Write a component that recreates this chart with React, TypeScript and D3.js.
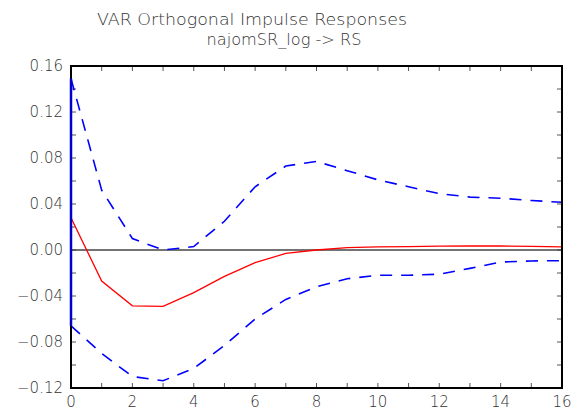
import React from "react";
import * as d3 from "d3";

const periods = [0, 1, 2, 3, 4, 5, 6, 7, 8, 9, 10, 11, 12, 13, 14, 15, 16];
const irf = [0.028, -0.027, -0.0485, -0.049, -0.037, -0.023, -0.011, -0.003, 0.0, 0.002, 0.0028, 0.003, 0.0034, 0.0035, 0.0035, 0.0032, 0.0028];
const upper = [0.149, 0.052, 0.01, 0.0, 0.003, 0.025, 0.055, 0.073, 0.077, 0.069, 0.061, 0.055, 0.049, 0.046, 0.045, 0.043, 0.0415];
const lower = [-0.066, -0.09, -0.11, -0.1137, -0.103, -0.083, -0.06, -0.043, -0.032, -0.025, -0.022, -0.022, -0.021, -0.016, -0.0105, -0.0095, -0.0093];
const yTickLabels = [0.16, 0.12, 0.08, 0.04, 0.0, -0.04, -0.08, -0.12];
const xTickLabels = [0, 2, 4, 6, 8, 10, 12, 14, 16];
const title = "VAR Orthogonal Impulse Responses";
const subtitle = "najomSR_log -> RS";

const W = 577, H = 417;
const L = 71, R = 562, T = 66, B = 388;

export default function App() {
  const x = d3.scaleLinear().domain([0, 16]).range([L, R]);
  const y = d3.scaleLinear().domain([-0.12, 0.16]).range([B, T]);
  const line = d3.line<number>().x((_, i) => x(periods[i])).y((d) => y(d));
  const minorY = d3.range(-0.12, 0.1601, 0.02);
  const minorX = d3.range(0, 17, 1);
  const font = "'DejaVu Sans', 'Liberation Sans', sans-serif";
  const fmt = (v: number) => (v < 0 ? "\u2212" : "") + Math.abs(v).toFixed(2);
  return (
    <svg width={W} height={H} style={{ position: "absolute", left: 0, top: 0, background: "#fff" }}>
      <text x={252} y={25} textAnchor="middle" fontFamily={font} fontSize={15} fontWeight={300} fill="#333" textLength={310} lengthAdjust="spacingAndGlyphs">{title}</text>
      <text x={284} y={45} textAnchor="middle" fontFamily={font} fontSize={15} fontWeight={300} fill="#333" textLength={155} lengthAdjust="spacingAndGlyphs">{subtitle}</text>
      {minorY.map((v, i) => (
        <g key={"yt" + i}>
          <line x1={L} x2={L + 5} y1={y(v)} y2={y(v)} stroke="#555" strokeWidth={1} />
          <line x1={R} x2={R - 5} y1={y(v)} y2={y(v)} stroke="#555" strokeWidth={1} />
        </g>
      ))}
      {minorX.map((v, i) => (
        <g key={"xt" + i}>
          <line x1={x(v)} x2={x(v)} y1={B} y2={B - 5} stroke="#555" strokeWidth={1} />
          <line x1={x(v)} x2={x(v)} y1={T} y2={T + 5} stroke="#555" strokeWidth={1} />
        </g>
      ))}
      <line x1={L} x2={R} y1={y(0)} y2={y(0)} stroke="#444" strokeWidth={1.5} />
      <path d={line(upper) || ""} fill="none" stroke="#0000ff" strokeWidth={1.6} strokeDasharray="12,9" />
      <path d={line(lower) || ""} fill="none" stroke="#0000ff" strokeWidth={1.6} strokeDasharray="12,9" />
      <path d={line(irf) || ""} fill="none" stroke="#ff0000" strokeWidth={1.3} />
      <rect x={L} y={T} width={R - L} height={B - T} fill="none" stroke="#000" strokeWidth={2} />
      <line x1={x(0)} x2={x(0)} y1={y(upper[0])} y2={y(lower[0])} stroke="#0000cc" strokeWidth={2.5} />
      {yTickLabels.map((v, i) => (
        <text key={"yl" + i} x={63} y={y(v) + 5} textAnchor="end" fontFamily={font} fontSize={15} fontWeight={300} fill="#333">{fmt(v)}</text>
      ))}
      {xTickLabels.map((v, i) => (
        <text key={"xl" + i} x={x(v)} y={407} textAnchor="middle" fontFamily={font} fontSize={15} fontWeight={300} fill="#333">{v}</text>
      ))}
    </svg>
  );
}
